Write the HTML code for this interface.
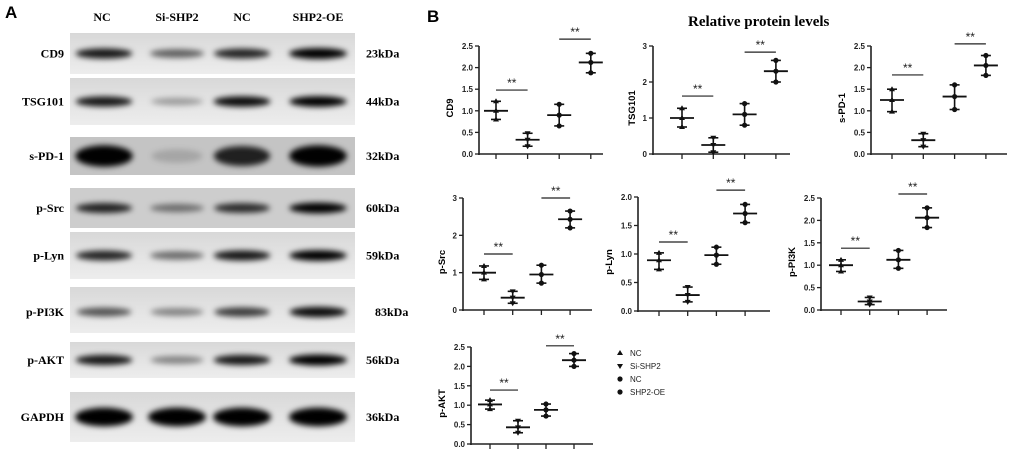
<!DOCTYPE html>
<html><head><meta charset="utf-8">
<style>
html,body{margin:0;padding:0;background:#fff;}
body{width:1020px;height:452px;overflow:hidden;position:relative;}
svg{position:absolute;left:0;top:0;}
.ser{font-family:"Liberation Serif",serif;font-weight:bold;}
.san{font-family:"Liberation Sans",sans-serif;}
</style></head>
<body>
<svg id="fig" width="1020" height="452" viewBox="0 0 1020 452">
<defs>
<filter id="blur" x="-30%" y="-80%" width="160%" height="260%"><feGaussianBlur stdDeviation="2.8"/></filter>
<linearGradient id="strip" x1="0" y1="0" x2="0" y2="1"><stop offset="0" stop-color="#d8d8d8"/><stop offset="0.5" stop-color="#e3e3e3"/><stop offset="1" stop-color="#ededed"/></linearGradient>
</defs>
<g id="panelA"></g>
<g id="panelB"></g>
</svg>
<script>
// ---------- Panel A data ----------
const laneLabels = ['NC','Si-SHP2','NC','SHP2-OE'];
const blotNames = ['CD9','TSG101','s-PD-1','p-Src','p-Lyn','p-PI3K','p-AKT','GAPDH'];
const blotKda = ['23kDa','44kDa','32kDa','60kDa','59kDa','83kDa','56kDa','36kDa'];
const blotIntensity = [
  [0.85,0.55,0.8,1.0],
  [0.85,0.3,0.9,0.95],
  [0.95,0.15,0.8,0.95],
  [0.8,0.45,0.75,0.95],
  [0.8,0.5,0.85,0.95],
  [0.6,0.4,0.7,0.9],
  [0.85,0.4,0.85,1.0],
  [1.0,1.0,1.0,1.0]
];
// ---------- Panel B data ----------
const groups = ['NC','Si-SHP2','NC','SHP2-OE'];
const proteins = ['CD9','TSG101','s-PD-1','p-Src','p-Lyn','p-PI3K','p-AKT'];
const cd9Mean=[1.0,0.33,0.9,2.12], cd9Lo=[0.8,0.18,0.65,1.88], cd9Hi=[1.22,0.48,1.15,2.33], cd9Sig=[1.48,2.66];
const tsgMean=[1.0,0.25,1.1,2.3], tsgLo=[0.75,0.05,0.8,2.0], tsgHi=[1.27,0.45,1.4,2.6], tsgSig=[1.61,2.83];
const pd1Mean=[1.25,0.32,1.33,2.05], pd1Lo=[0.98,0.17,1.03,1.82], pd1Hi=[1.5,0.47,1.6,2.28], pd1Sig=[1.83,2.55];
const srcMean=[1.0,0.33,0.95,2.43], srcLo=[0.82,0.18,0.72,2.2], srcHi=[1.18,0.5,1.2,2.65], srcSig=[1.5,3.0];
const lynMean=[0.89,0.28,0.98,1.71], lynLo=[0.73,0.16,0.82,1.55], lynHi=[1.02,0.42,1.12,1.87], lynSig=[1.21,2.12];
const pi3kMean=[1.0,0.19,1.12,2.06], pi3kLo=[0.86,0.12,0.93,1.84], pi3kHi=[1.12,0.28,1.33,2.28], pi3kSig=[1.38,2.59];
const aktMean=[1.02,0.43,0.88,2.16], aktLo=[0.9,0.29,0.72,2.0], aktHi=[1.13,0.6,1.03,2.33], aktSig=[1.39,2.53];
const tickA=[0,0.5,1.0,1.5,2.0,2.5], tickB=[0,1,2,3], tickC=[0,0.5,1.0,1.5,2.0];

const NS='http://www.w3.org/2000/svg';
function mk(tag,attrs,parent){const e=document.createElementNS(NS,tag);for(const k in attrs)e.setAttribute(k,attrs[k]);if(parent)parent.appendChild(e);return e;}

// ---------- Panel A ----------
const A=document.getElementById('panelA');
let t=mk('text',{x:5,y:18,'font-size':17,'font-weight':'bold',class:'san'},A);t.textContent='A';

const laneX=[106,177,242,318];
laneLabels.forEach((l,i)=>{const e=mk('text',{x:laneX[i]-(i==0?4:0),y:21,'font-size':12,'text-anchor':'middle',class:'ser'},A);e.textContent=l;
});
const stripTop=[33,78,137,188,232,287,342,392], stripBot=[74,125,175,228,279,333,378,442];
blotNames.forEach((n,r)=>{
  const g=mk('g',{},A);
  
  mk('rect',{x:70,y:stripTop[r],width:285,height:stripBot[r]-stripTop[r],fill:r==2?'#c4c4c4':(r==3?'#cdcdcd':'url(#strip)')},g);
  const cy=(stripTop[r]+stripBot[r])/2+(r==5?2:0);
  blotIntensity[r].forEach((v,i)=>{
    const ry=(r==2?10:(r==7?8.5:5))*(0.6+0.5*v);
    const b=mk('ellipse',{cx:laneX[i]-(i==0?2:0),cy:cy,rx:25+4*v,ry:ry,fill:'#000','fill-opacity':Math.min(1,v*1.05),filter:'url(#blur)'},g);
    
  });
  const l=mk('text',{x:64,y:cy+4,'font-size':12,'text-anchor':'end',class:'ser'},g);l.textContent=n;
  const k=mk('text',{x:r==5?375:366,y:cy+4,'font-size':12,class:'ser'},g);k.textContent=blotKda[r];
});

// ---------- Panel B ----------
const B=document.getElementById('panelB');
t=mk('text',{x:427,y:22,'font-size':17,'font-weight':'bold',class:'san'},B);t.textContent='B';

t=mk('text',{x:688,y:26,'font-size':15,class:'ser'},B);t.textContent='Relative  protein  levels';


const charts=[
 {name:'CD9',mean:cd9Mean,lo:cd9Lo,hi:cd9Hi,sig:cd9Sig,ticks:tickA,max:2.5,x0:479,x1:603,y0:154,yt:46,t0:496,dt:31.6,dec:1},
 {name:'TSG101',mean:tsgMean,lo:tsgLo,hi:tsgHi,sig:tsgSig,ticks:tickB,max:3,x0:653,x1:790,y0:154,yt:46,t0:682,dt:31.3,dec:0},
 {name:'s-PD-1',mean:pd1Mean,lo:pd1Lo,hi:pd1Hi,sig:pd1Sig,ticks:tickA,max:2.5,x0:871,x1:1007,y0:154,yt:46,t0:892,dt:31.3,dec:1},
 {name:'p-Src',mean:srcMean,lo:srcLo,hi:srcHi,sig:srcSig,ticks:tickB,max:3,x0:463,x1:592,y0:310,yt:198,t0:484,dt:28.7,dec:0},
 {name:'p-Lyn',mean:lynMean,lo:lynLo,hi:lynHi,sig:lynSig,ticks:tickC,max:2.0,x0:638,x1:770,y0:311,yt:197,t0:659,dt:28.7,dec:1},
 {name:'p-PI3K',mean:pi3kMean,lo:pi3kLo,hi:pi3kHi,sig:pi3kSig,ticks:tickA,max:2.5,x0:821,x1:947,y0:310,yt:198,t0:841,dt:28.7,dec:1},
 {name:'p-AKT',mean:aktMean,lo:aktLo,hi:aktHi,sig:aktSig,ticks:tickA,max:2.5,x0:471,x1:593,y0:444,yt:347,t0:490,dt:28,dec:1}
];
function marker(g,k,x,y){
  if(k==0) mk('path',{d:`M${x} ${y-3}L${x+3} ${y+2}L${x-3} ${y+2}Z`,fill:'#111'},g);
  else if(k==1) mk('path',{d:`M${x} ${y+3}L${x+3} ${y-2}L${x-3} ${y-2}Z`,fill:'#111'},g);
  else mk('circle',{cx:x,cy:y,r:2.6,fill:'#111'},g);
}
charts.forEach(c=>{
  const g=mk('g',{},B);
  
  const Y=v=>c.y0-(v/c.max)*(c.y0-c.yt);
  const X=i=>c.t0+i*c.dt;
  mk('line',{x1:c.x0,y1:c.yt,x2:c.x0,y2:c.y0+1,stroke:'#222','stroke-width':1.6},g);
  mk('line',{x1:c.x0-1,y1:c.y0,x2:c.x1,y2:c.y0,stroke:'#222','stroke-width':1.6},g);
  c.ticks.forEach(v=>{
    mk('line',{x1:c.x0-4,y1:Y(v),x2:c.x0,y2:Y(v),stroke:'#222','stroke-width':1.3},g);
    const e=mk('text',{x:c.x0-6,y:Y(v)+3,'font-size':8,'font-weight':'bold','text-anchor':'end',class:'san',fill:'#222'},g);
    e.textContent=c.dec?v.toFixed(1):String(v);
    
  });
  const yl=mk('text',{x:0,y:0,'font-size':9.5,'font-weight':'bold','text-anchor':'middle',class:'san',transform:`translate(${c.x0-(c.dec?26:18)},${(c.y0+c.yt)/2+8}) rotate(-90)`},g);
  yl.textContent=c.name;
  
  groups.forEach((gn,i)=>{
    const x=X(i);
    mk('line',{x1:x,y1:c.y0,x2:x,y2:c.y0+5,stroke:'#222','stroke-width':1.3},g);
    const s=mk('g',{},g);
    
    mk('line',{x1:x,y1:Y(c.lo[i]),x2:x,y2:Y(c.hi[i]),stroke:'#111','stroke-width':1.6},s);
    mk('line',{x1:x-5,y1:Y(c.lo[i]),x2:x+5,y2:Y(c.lo[i]),stroke:'#111','stroke-width':1.6},s);
    mk('line',{x1:x-5,y1:Y(c.hi[i]),x2:x+5,y2:Y(c.hi[i]),stroke:'#111','stroke-width':1.6},s);
    mk('line',{x1:x-12,y1:Y(c.mean[i]),x2:x+12,y2:Y(c.mean[i]),stroke:'#111','stroke-width':1.8},s);
    [c.lo[i],c.mean[i],c.hi[i]].forEach(v=>marker(s,i,x,Y(v)));
  });
  c.sig.forEach((v,j)=>{
    const xa=X(2*j), xb=X(2*j+1);
    mk('line',{x1:xa,y1:Y(v),x2:xb,y2:Y(v),stroke:'#222','stroke-width':1.2},g);
    const e=mk('text',{x:(xa+xb)/2,y:Y(v)-3,'font-size':12,'text-anchor':'middle',class:'san',fill:'#222'},g);
    e.textContent='**';
    
  });
});
// legend
const lg=mk('g',{},B);

groups.forEach((gn,i)=>{
  const y=353+i*13;
  const it=mk('g',{},lg);
  
  marker(it,i,620,y);
  const e=mk('text',{x:630,y:y+3,'font-size':8,class:'san',fill:'#222'},it);e.textContent=gn;
});
</script>
</body></html>
